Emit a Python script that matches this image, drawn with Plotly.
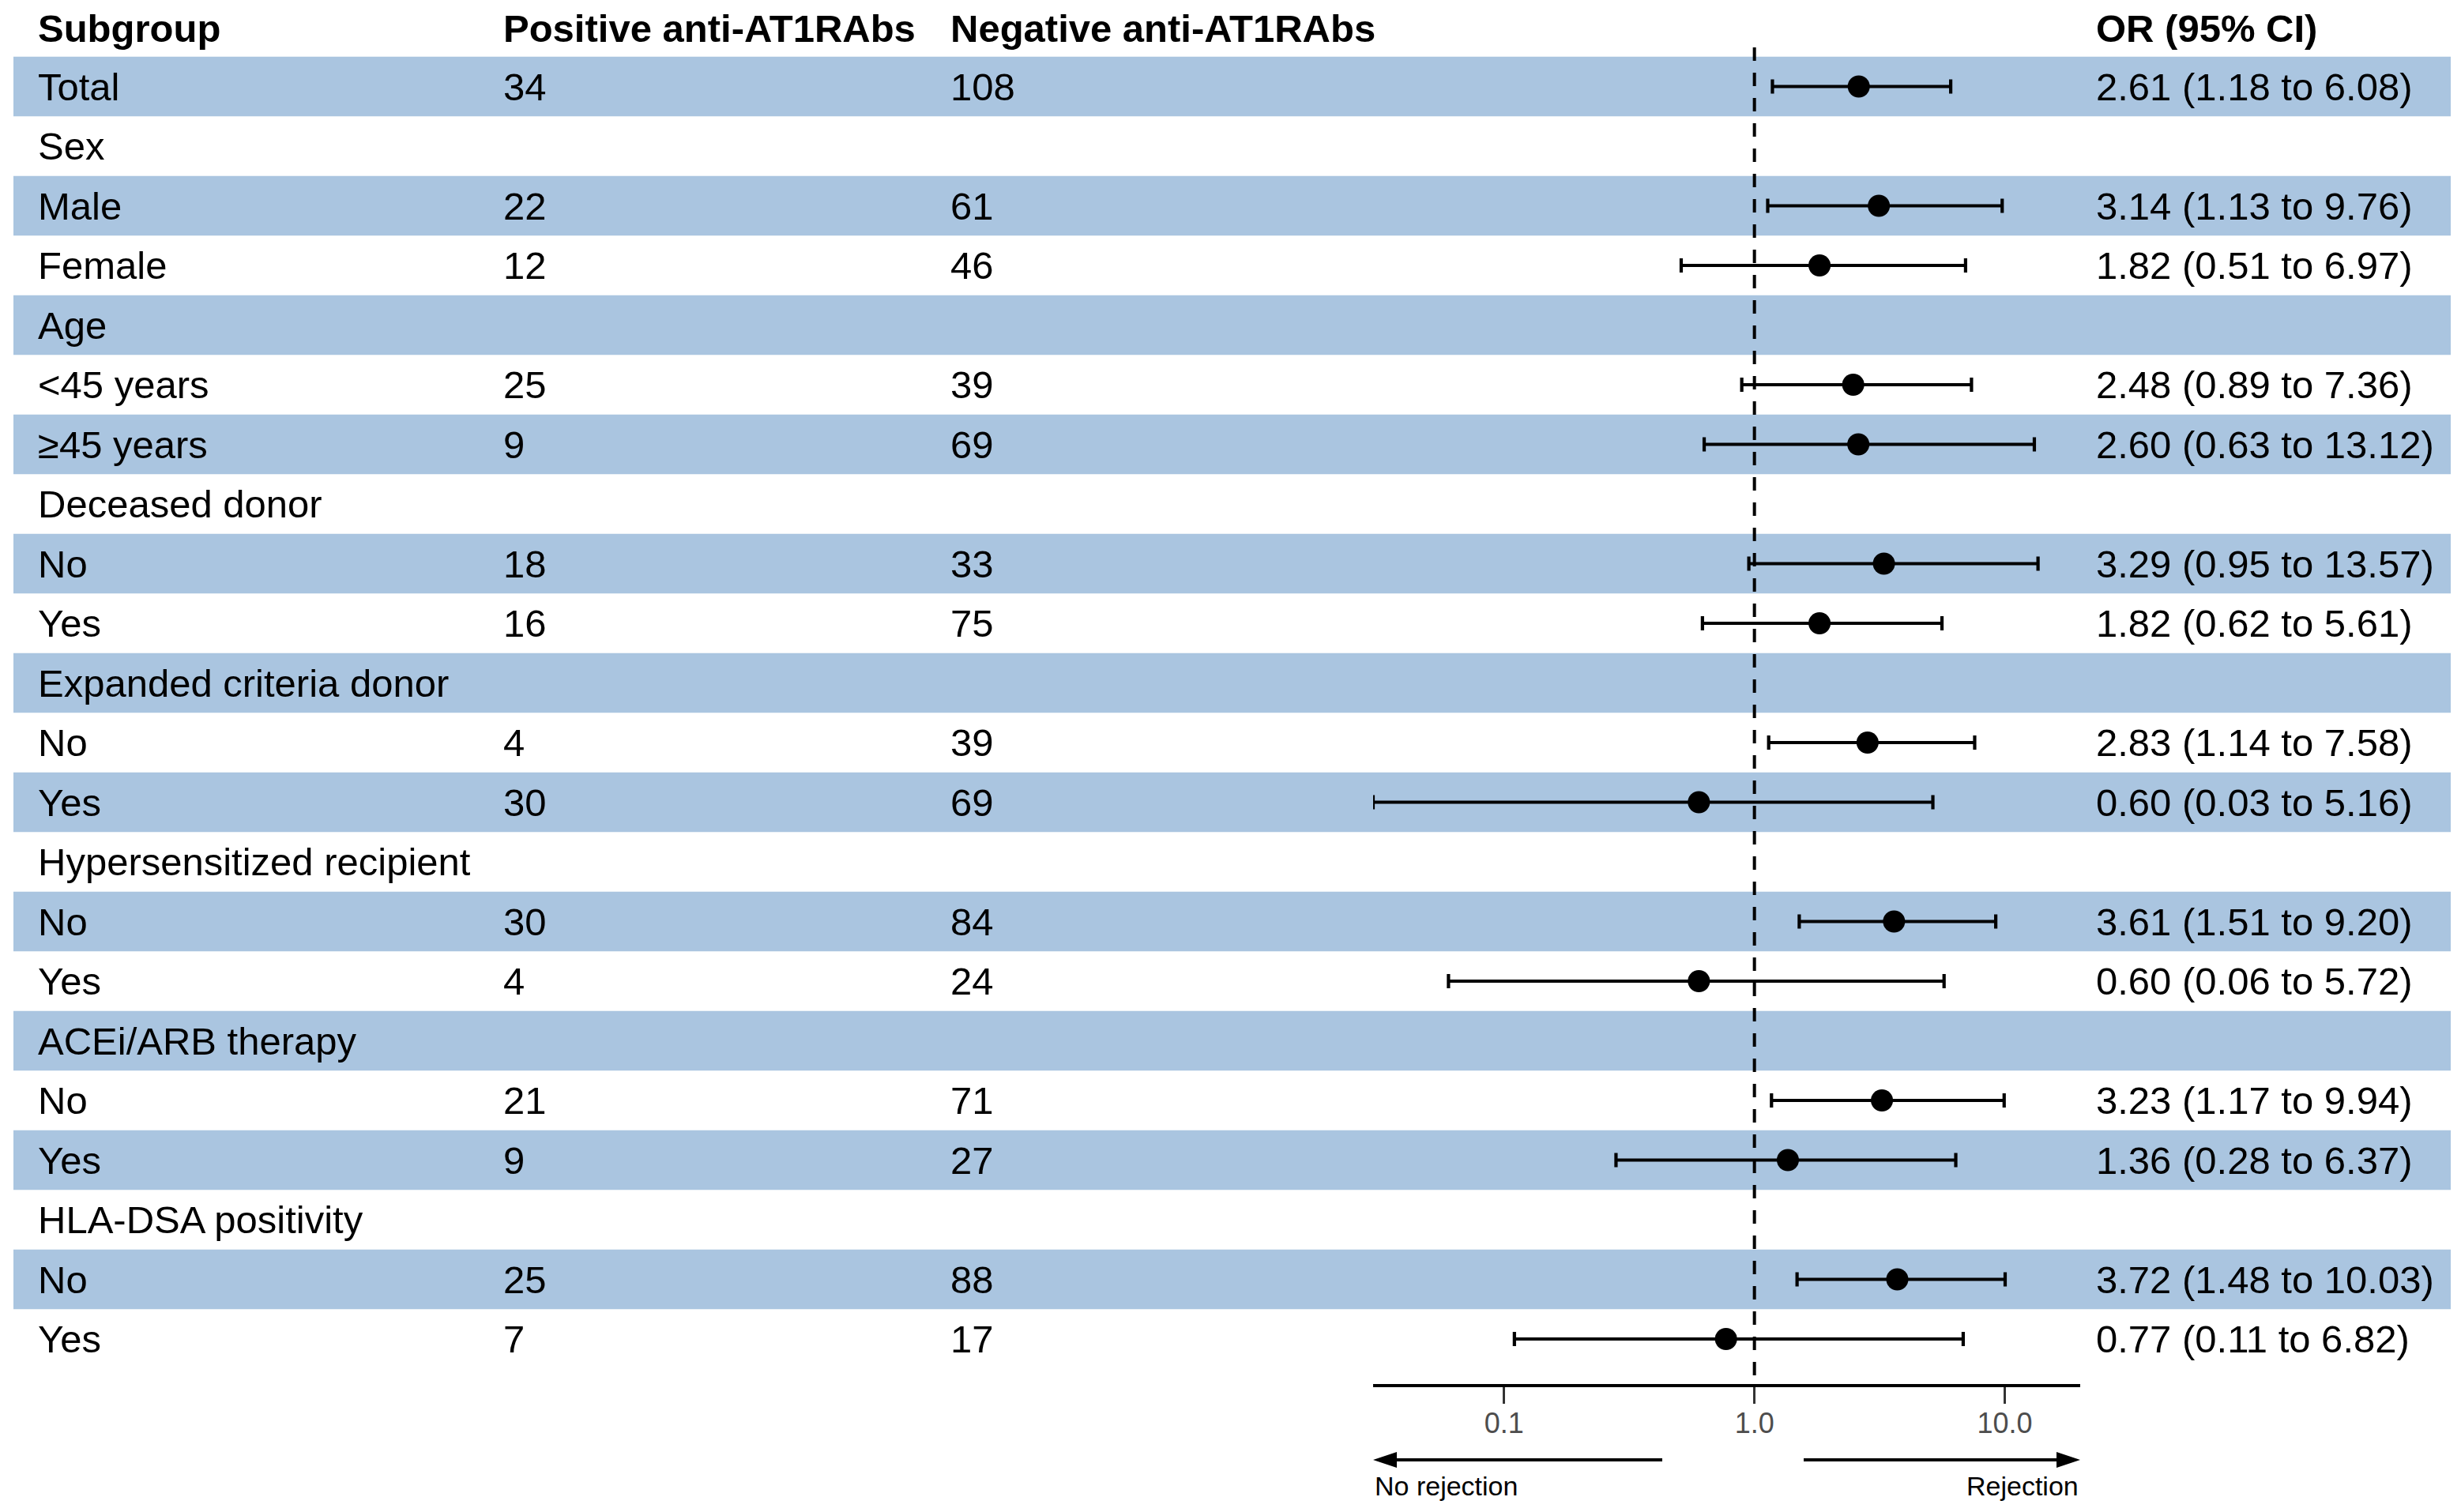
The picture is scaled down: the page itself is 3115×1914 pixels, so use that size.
import plotly.graph_objects as go
import math

W, H = 3115, 1914

# ---------------- data ----------------
labels = ["Total", "Sex", "Male", "Female", "Age", "<45 years", "≥45 years",
          "Deceased donor", "No", "Yes", "Expanded criteria donor", "No", "Yes",
          "Hypersensitized recipient", "No", "Yes", "ACEi/ARB therapy", "No", "Yes",
          "HLA-DSA positivity", "No", "Yes"]
positive = [34, None, 22, 12, None, 25, 9, None, 18, 16, None, 4, 30, None, 30, 4,
            None, 21, 9, None, 25, 7]
negative = [108, None, 61, 46, None, 39, 69, None, 33, 75, None, 39, 69, None, 84, 24,
            None, 71, 27, None, 88, 17]
odds = [2.61, None, 3.14, 1.82, None, 2.48, 2.60, None, 3.29, 1.82, None, 2.83, 0.60,
        None, 3.61, 0.60, None, 3.23, 1.36, None, 3.72, 0.77]
ci_low = [1.18, None, 1.13, 0.51, None, 0.89, 0.63, None, 0.95, 0.62, None, 1.14, 0.03,
          None, 1.51, 0.06, None, 1.17, 0.28, None, 1.48, 0.11]
ci_high = [6.08, None, 9.76, 6.97, None, 7.36, 13.12, None, 13.57, 5.61, None, 7.58, 5.16,
           None, 9.20, 5.72, None, 9.94, 6.37, None, 10.03, 6.82]
headers = ["Subgroup", "Positive anti-AT1RAbs", "Negative anti-AT1RAbs", "OR (95% CI)"]
tick_vals = [0.1, 1, 10]
tick_text = ["0.1", "1.0", "10.0"]
x_min, x_max = 0.03, 20
direction_left = "No rejection"
direction_right = "Rejection"

# ---------------- layout constants (pixels) ----------------
ROW0 = 109.5        # centre of first row
ROWH = 75.5         # row pitch
AXIS_Y = 1752       # pixel y of the x-axis line
FX0, FX1 = 1738, 2633   # forest plot horizontal extent
BAND = "#AAC5E0"
FONT = "Liberation Sans, Arial, sans-serif"
FS = 49

n = len(labels)
y_top = -ROW0 / ROWH
y_bot = (AXIS_Y - ROW0) / ROWH
rows = list(range(n))

col_x = [46, 635, 1201, 2651]

fig = go.Figure()

shapes = []
# alternating bands
for i in rows:
    if i % 2 == 0:
        shapes.append(dict(type="rect", xref="paper", yref="y",
                           x0=17 / W, x1=3102 / W, y0=i - 0.5, y1=i + 0.5,
                           fillcolor=BAND, line=dict(width=0), layer="below"))

# reference line at OR = 1
fig.add_trace(go.Scatter(
    x=[1, 1], y=[(60 - ROW0) / ROWH, y_bot], mode="lines",
    line=dict(color="black", width=4, dash="17px,15px"),
    hoverinfo="skip", showlegend=False))

# point estimates with CIs
idx = [i for i in rows if odds[i] is not None]
fig.add_trace(go.Scatter(
    x=[odds[i] for i in idx], y=idx, mode="markers",
    marker=dict(color="black", size=28),
    error_x=dict(type="data", symmetric=False,
                 array=[ci_high[i] - odds[i] for i in idx],
                 arrayminus=[odds[i] - ci_low[i] for i in idx],
                 color="black", thickness=4.2, width=9),
    hoverinfo="skip", showlegend=False))

annotations = []
# headers
for h, cx in zip(headers, col_x):
    annotations.append(dict(text=f"<b>{h}</b>", xref="paper", yref="y", x=cx / W, y=-0.975,
                            xanchor="left", yanchor="middle", showarrow=False,
                            font=dict(family=FONT, size=FS, color="black")))
# table text
for i in rows:
    vals = [labels[i],
            "" if positive[i] is None else str(positive[i]),
            "" if negative[i] is None else str(negative[i]),
            "" if odds[i] is None else f"{odds[i]:.2f} ({ci_low[i]:.2f} to {ci_high[i]:.2f})"]
    for v, cx in zip(vals, col_x):
        if v:
            annotations.append(dict(text=v, xref="paper", yref="y", x=cx / W, y=i,
                                    xanchor="left", yanchor="middle", showarrow=False,
                                    font=dict(family=FONT, size=FS, color="black")))

# direction arrows
AY = 1848
def px(x):
    return x / W
def py(y):
    return 1 - y / H

shapes.append(dict(type="line", xref="paper", yref="paper",
                   x0=px(2104), x1=px(FX0 + 20), y0=py(AY), y1=py(AY),
                   line=dict(color="black", width=4)))
shapes.append(dict(type="path", xref="paper", yref="paper",
                   path=f"M {px(FX0)},{py(AY)} L {px(FX0 + 30)},{py(AY - 10)} L {px(FX0 + 30)},{py(AY + 10)} Z",
                   fillcolor="black", line=dict(width=0)))
shapes.append(dict(type="line", xref="paper", yref="paper",
                   x0=px(2283), x1=px(FX1 - 20), y0=py(AY), y1=py(AY),
                   line=dict(color="black", width=4)))
shapes.append(dict(type="path", xref="paper", yref="paper",
                   path=f"M {px(FX1)},{py(AY)} L {px(FX1 - 30)},{py(AY - 10)} L {px(FX1 - 30)},{py(AY + 10)} Z",
                   fillcolor="black", line=dict(width=0)))
annotations.append(dict(text=direction_left, xref="paper", yref="paper", x=px(FX0), y=py(1881),
                        xanchor="left", yanchor="middle", showarrow=False,
                        font=dict(family=FONT, size=34, color="black")))
annotations.append(dict(text=direction_right, xref="paper", yref="paper", x=px(FX1), y=py(1881),
                        xanchor="right", yanchor="middle", showarrow=False,
                        font=dict(family=FONT, size=34, color="black")))

fig.update_layout(
    width=W, height=H, margin=dict(l=0, r=0, t=0, b=0),
    paper_bgcolor="white", plot_bgcolor="rgba(0,0,0,0)",
    shapes=shapes, annotations=annotations, hovermode=False,
    xaxis=dict(type="log", domain=[FX0 / W, FX1 / W],
               range=[math.log10(x_min), math.log10(x_max)],
               showgrid=False, zeroline=False, showline=True, linecolor="black", linewidth=3.5,
               ticks="outside", ticklen=21, tickwidth=3, tickcolor="#333333",
               tickvals=tick_vals, ticktext=tick_text, ticklabelstandoff=-6,
               tickfont=dict(family=FONT, size=36, color="#4D4D4D")),
    yaxis=dict(domain=[(H - AXIS_Y) / H, 1], range=[y_bot, y_top],
               showgrid=False, zeroline=False, showline=False, showticklabels=False, ticks=""),
)

fig.write_html("out.html", config={"displayModeBar": False},
               post_script="document.body.style.margin='0';document.body.style.overflow='hidden';")
